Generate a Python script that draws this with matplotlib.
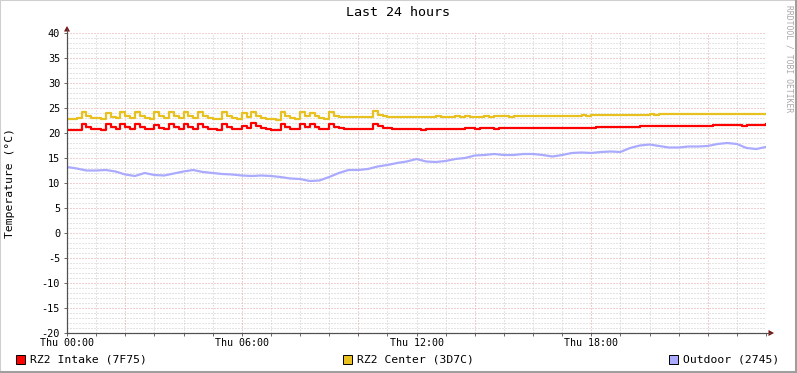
import numpy as np
import matplotlib
matplotlib.use("Agg")
import matplotlib.pyplot as plt
from matplotlib.lines import Line2D
from matplotlib.patches import Polygon, Rectangle

# --- data (10 minute samples for the two indoor sensors, 20 minute for outdoor)
intake_7f75 = [
    20.7, 20.7, 20.6, 21.9, 21.2, 20.9, 20.8, 20.7, 21.8, 21.2,
    20.9, 21.9, 21.2, 20.9, 21.9, 21.2, 20.9, 20.8, 21.7, 21.1,
    20.8, 21.8, 21.2, 20.9, 21.9, 21.2, 20.9, 21.8, 21.2, 20.9,
    20.8, 20.7, 21.9, 21.2, 20.9, 20.8, 21.5, 21.0, 22.0, 21.4,
    21.0, 20.8, 20.7, 20.7, 21.8, 21.2, 20.9, 20.8, 21.9, 21.2,
    21.8, 21.2, 20.9, 20.8, 21.9, 21.3, 21.0, 20.9, 20.9, 20.8,
    20.8, 20.8, 20.8, 21.9, 21.4, 21.1, 21.0, 20.9, 20.8, 20.8,
    20.8, 20.8, 20.8, 20.7, 20.8, 20.8, 20.8, 20.8, 20.8, 20.9,
    20.8, 20.8, 21.0, 21.0, 20.9, 21.0, 21.0, 21.0, 20.9, 21.0,
    21.0, 21.0, 21.0, 21.0, 21.0, 21.0, 21.0, 21.0, 21.0, 21.0,
    21.0, 21.0, 21.0, 21.0, 21.0, 21.0, 21.0, 21.0, 21.0, 21.3,
    21.3, 21.3, 21.3, 21.3, 21.3, 21.3, 21.3, 21.3, 21.5, 21.5,
    21.5, 21.5, 21.5, 21.5, 21.5, 21.5, 21.5, 21.5, 21.5, 21.5,
    21.5, 21.5, 21.5, 21.7, 21.7, 21.7, 21.7, 21.7, 21.7, 21.5,
    21.7, 21.7, 21.7, 21.7, 21.9,
]
center_3d7c = [
    22.9, 22.9, 23.0, 24.2, 23.4, 23.1, 23.0, 22.9, 24.0, 23.3,
    23.0, 24.3, 23.4, 23.1, 24.3, 23.4, 23.1, 22.9, 24.2, 23.4,
    23.0, 24.2, 23.4, 23.1, 24.3, 23.4, 23.1, 24.2, 23.4, 23.1,
    22.9, 22.8, 24.3, 23.4, 23.1, 22.9, 24.1, 23.3, 24.2, 23.4,
    23.1, 22.9, 22.8, 22.7, 24.3, 23.4, 23.1, 22.9, 24.3, 23.4,
    24.1, 23.4, 23.1, 22.9, 24.3, 23.5, 23.3, 23.2, 23.2, 23.3,
    23.2, 23.2, 23.3, 24.5, 23.6, 23.4, 23.3, 23.3, 23.3, 23.3,
    23.3, 23.3, 23.2, 23.3, 23.3, 23.3, 23.4, 23.3, 23.3, 23.3,
    23.4, 23.3, 23.4, 23.3, 23.3, 23.3, 23.4, 23.3, 23.4, 23.4,
    23.4, 23.3, 23.4, 23.4, 23.4, 23.5, 23.4, 23.4, 23.5, 23.4,
    23.5, 23.4, 23.5, 23.5, 23.5, 23.5, 23.6, 23.5, 23.6, 23.6,
    23.6, 23.6, 23.6, 23.6, 23.6, 23.7, 23.7, 23.7, 23.7, 23.7,
    23.8, 23.7, 23.8, 23.8, 23.8, 23.8, 23.8, 23.8, 23.8, 23.8,
    23.8, 23.8, 23.8, 23.8, 23.8, 23.8, 23.8, 23.8, 23.8, 23.8,
    23.8, 23.8, 23.8, 23.8, 23.8,
]
outdoor_2745 = [
    13.2, 12.9, 12.5, 12.5, 12.6, 12.3, 11.7, 11.4, 12.0, 11.6,
    11.5, 11.9, 12.3, 12.6, 12.2, 12.0, 11.8, 11.7, 11.5, 11.4,
    11.5, 11.4, 11.2, 10.9, 10.8, 10.4, 10.5, 11.2, 12.0, 12.6,
    12.6, 12.8, 13.3, 13.6, 14.0, 14.3, 14.8, 14.3, 14.2, 14.4,
    14.8, 15.0, 15.5, 15.6, 15.8, 15.6, 15.6, 15.8, 15.8, 15.6,
    15.3, 15.6, 16.0, 16.1, 16.0, 16.2, 16.3, 16.2, 17.0, 17.5,
    17.7, 17.4, 17.1, 17.1, 17.3, 17.3, 17.4, 17.8, 18.0, 17.8,
    17.0, 16.8, 17.2,
]
series_names = ["RZ2 Intake (7F75)", "RZ2 Center (3D7C)", "Outdoor (2745)"]
series_colors = ["#FF0000", "#E8C020", "#AAAAFF"]
tick_hours = [0, 6, 12, 18]
tick_labels = ["Thu 00:00", "Thu 06:00", "Thu 12:00", "Thu 18:00"]

W, H = 797, 373
L, R, T, B = 67, 766, 33, 333  # plot area in pixels

def fx(x):
    return x / W

def fy(y):
    return 1 - y / H

mono = "DejaVu Sans Mono"
plt.rcParams["font.family"] = mono

fig = plt.figure(figsize=(W / 100, H / 100), dpi=100)
fig.patch.set_facecolor("white")
ax = fig.add_axes([fx(L), fy(B), (R - L) / W, (B - T) / H])
ax.set_facecolor("white")
ax.set_xlim(0, 24)
ax.set_ylim(-20, 40)

# grid, rrdtool style
minor_c = "#C8C8C8"
major_c = "#E4A0A0"
dot = (0, (1, 2))
for v in range(-20, 41):
    if v % 5:
        ax.axhline(v, color=minor_c, lw=0.72, ls=dot, zorder=1)
for h in range(1, 25):
    if h % 4 != 2:
        ax.axvline(h, color=minor_c, lw=0.72, ls=dot, zorder=1)
for v in range(-15, 41, 5):
    ax.axhline(v, color=major_c, lw=0.72, ls=dot, zorder=1.5)
for h in range(2, 24, 4):
    ax.axvline(h, color=major_c, lw=0.72, ls=dot, zorder=1.5)

t10 = np.arange(len(intake_7f75)) / 6.0
t20 = np.arange(len(outdoor_2745)) / 3.0
ax.plot(t10, intake_7f75, color=series_colors[0], lw=1.6, drawstyle="steps-post", zorder=3)
ax.plot(t10, center_3d7c, color=series_colors[1], lw=1.6, drawstyle="steps-post", zorder=3)
ax.plot(t20, outdoor_2745, color=series_colors[2], lw=1.6, zorder=3)

axis_c = "#505050"
for s in ["top", "right"]:
    ax.spines[s].set_visible(False)
for s in ["left", "bottom"]:
    ax.spines[s].set_color(axis_c)
    ax.spines[s].set_linewidth(0.8)
    ax.spines[s].set_zorder(4)

ax.set_xticks(tick_hours)
ax.set_xticklabels(tick_labels, fontsize=7.2)
ax.set_xticks(range(0, 25), minor=True)
ax.set_yticks(range(-20, 41, 5))
ax.set_yticklabels([str(v) for v in range(-20, 41, 5)], fontsize=7.4)
ax.set_yticks(range(-20, 41), minor=True)
ax.tick_params(axis="x", which="both", direction="out", length=2, width=0.6,
               color=axis_c, pad=1.5)
ax.tick_params(axis="y", which="major", direction="out", length=2, width=0.6,
               color=axis_c, pad=3)
ax.tick_params(axis="y", which="minor", length=0)

# axis extensions and arrows
arrow_c = "#7A1010"
fig.add_artist(Line2D([fx(L), fx(L)], [fy(B), fy(29)], color=axis_c, lw=0.8))
fig.add_artist(Line2D([fx(L), fx(770)], [fy(B), fy(B)], color=axis_c, lw=0.8))
fig.add_artist(Polygon([[fx(64), fy(31.5)], [fx(70), fy(31.5)], [fx(67), fy(26)]],
                       closed=True, color=arrow_c, lw=0))
fig.add_artist(Polygon([[fx(768.5), fy(330)], [fx(768.5), fy(336)], [fx(774), fy(333)]],
                       closed=True, color=arrow_c, lw=0))

fig.text(fx(398), fy(13), "Last 24 hours", ha="center", va="center", fontsize=9.6)
fig.text(fx(10), fy(183), "Temperature (°C)", rotation=90, ha="center", va="center",
         fontsize=8.2)
fig.text(fx(789), fy(5), "RRDTOOL / TOBI OETIKER", rotation=270, ha="center", va="top",
         fontsize=5.8, color="#A8A8A8")

# legend row
legend_x = [16, 343, 669]
for x0, name, c in zip(legend_x, series_names, series_colors):
    fig.add_artist(Rectangle((fx(x0), fy(364)), 9 / W, 9 / H, facecolor=c,
                             edgecolor="black", lw=0.7))
    fig.text(fx(x0 + 14), fy(359.5), name, ha="left", va="center", fontsize=8.2)

# frame shading
fig.add_artist(Rectangle((0, 0), 1, 1, fill=False, edgecolor="#CFCFCF", lw=1.5))
fig.add_artist(Line2D([fx(1), fx(W)], [fy(H - 1.5), fy(H - 1.5)], color="#9E9E9E", lw=2.2))
fig.add_artist(Line2D([fx(W - 1.5), fx(W - 1.5)], [fy(0), fy(H)], color="#9E9E9E", lw=2.2))

fig.savefig("out.png", dpi=100)
